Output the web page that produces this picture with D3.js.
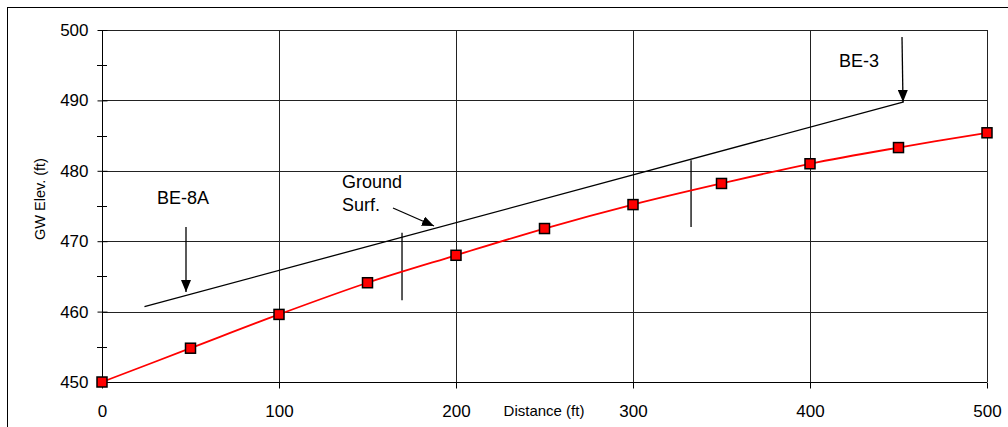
<!DOCTYPE html>
<html>
<head>
<meta charset="utf-8">
<script src="https://cdn.jsdelivr.net/npm/d3@7"></script>
<style>
  body { margin: 0; background: #fff; }
  svg { font-family: "Liberation Sans", Arial, sans-serif; }
</style>
</head>
<body>
<div id="chart"></div>
<script>
// Chart size
const width = 1008,
      height = 427;

// Data
const distance = [0, 50, 100, 150, 200, 250, 300, 350, 400, 450, 500];
const gwElev = [450, 454.8, 459.6, 464.1, 468.0, 471.8, 475.2, 478.2, 481.0, 483.3, 485.4];
const groundSurf = [[24, 460.7], [453, 489.8]];
const sectionMarks = [[169.5, 461.6, 471.2], [332.8, 472.0, 481.5]];
const xTicks = [0, 100, 200, 300, 400, 500];
const yTicks = [450, 460, 470, 480, 490, 500];
const yMinor = [455, 465, 475, 485, 495];

const margin = {left: 102, right: 21, top: 30, bottom: 45};

const svg = d3.select("#chart").append("svg")
    .attr("width", width)
    .attr("height", height);

// Arrow head (points along the line direction)
svg.append("defs").append("marker")
    .attr("id", "head")
    .attr("viewBox", "0 0 12 10")
    .attr("refX", 12)
    .attr("refY", 5)
    .attr("markerWidth", 12)
    .attr("markerHeight", 10)
    .attr("markerUnits", "userSpaceOnUse")
    .attr("orient", "auto")
    .append("path")
    .attr("d", "M0,0 L12,5 L0,10 Z")
    .attr("fill", "#000");

// Outer frame
svg.append("rect")
    .attr("x", 7.5).attr("y", 7.5)
    .attr("width", width + 10).attr("height", height + 10)
    .attr("fill", "none").attr("stroke", "#000");

const x = d3.scaleLinear().domain([0, 500]).range([margin.left, width - margin.right]);
const y = d3.scaleLinear().domain([450, 500]).range([height - margin.bottom, margin.top]);

// Grid lines
svg.append("g").selectAll("line")
    .data(yTicks.slice(1))
    .join("line")
    .attr("x1", x(0)).attr("x2", x(500))
    .attr("y1", d => Math.round(y(d)) + 0.5).attr("y2", d => Math.round(y(d)) + 0.5)
    .attr("stroke", "#222");

svg.append("g").selectAll("line")
    .data(xTicks.slice(1))
    .join("line")
    .attr("x1", d => Math.round(x(d)) + 0.5).attr("x2", d => Math.round(x(d)) + 0.5)
    .attr("y1", y(450)).attr("y2", y(500))
    .attr("stroke", "#222");

// Axes
const yAxis = svg.append("g")
    .attr("transform", `translate(${Math.round(x(0)) + 0.5},0)`)
    .call(d3.axisLeft(y).tickValues(yTicks).tickSize(5).tickFormat(d3.format("d")));
yAxis.selectAll(".tick line").attr("x2", 5).attr("x1", -5);
yAxis.selectAll(".tick text").style("font-size", "17px").attr("x", -14);
yAxis.select(".domain").remove();
yAxis.append("line").attr("y1", y(450)).attr("y2", y(500)).attr("stroke", "#000");

svg.append("g").selectAll("line")
    .data(yMinor)
    .join("line")
    .attr("x1", x(0) - 5).attr("x2", x(0) + 5)
    .attr("y1", d => Math.round(y(d)) + 0.5).attr("y2", d => Math.round(y(d)) + 0.5)
    .attr("stroke", "#000");

const xAxis = svg.append("g")
    .attr("transform", `translate(0,${Math.round(y(450)) + 0.5})`)
    .call(d3.axisBottom(x).tickValues(xTicks).tickSize(6).tickFormat(d3.format("d")));
xAxis.selectAll(".tick text").style("font-size", "17px").attr("y", 22);
xAxis.select(".domain").remove();
xAxis.append("line").attr("x1", x(0)).attr("x2", x(500)).attr("stroke", "#000");

// Axis titles
svg.append("text")
    .attr("transform", "translate(45,199) rotate(-90)")
    .attr("text-anchor", "middle")
    .style("font-size", "14.5px")
    .text("GW Elev. (ft)");

svg.append("text")
    .attr("x", 544).attr("y", 416)
    .attr("text-anchor", "middle")
    .style("font-size", "15px")
    .text("Distance (ft)");

// Ground surface
svg.append("line")
    .attr("x1", x(groundSurf[0][0])).attr("y1", y(groundSurf[0][1]))
    .attr("x2", x(groundSurf[1][0])).attr("y2", y(groundSurf[1][1]))
    .attr("stroke", "#000").attr("stroke-width", 1.3);

// Section marks
svg.append("g").selectAll("line")
    .data(sectionMarks)
    .join("line")
    .attr("x1", d => x(d[0])).attr("x2", d => x(d[0]))
    .attr("y1", d => y(d[1])).attr("y2", d => y(d[2]))
    .attr("stroke", "#000").attr("stroke-width", 1.3);

// Groundwater line
const pts = distance.map((d, i) => [d, gwElev[i]]);
svg.append("path")
    .datum(pts)
    .attr("fill", "none")
    .attr("stroke", "#ff0000")
    .attr("stroke-width", 1.8)
    .attr("d", d3.line().x(d => x(d[0])).y(d => y(d[1])).curve(d3.curveCatmullRom));

svg.append("g").selectAll("rect")
    .data(pts)
    .join("rect")
    .attr("x", d => x(d[0]) - 5).attr("y", d => y(d[1]) - 5)
    .attr("width", 10).attr("height", 10)
    .attr("fill", "#ff0000").attr("stroke", "#000").attr("stroke-width", 1.5);

// Annotations
const arrows = [
  {x1: 186, y1: 227, x2: 186, y2: 292},
  {x1: 902, y1: 37, x2: 903, y2: 102},
  {x1: 393, y1: 208, x2: 434, y2: 226}
];
svg.append("g").selectAll("line")
    .data(arrows)
    .join("line")
    .attr("x1", d => d.x1).attr("y1", d => d.y1)
    .attr("x2", d => d.x2).attr("y2", d => d.y2)
    .attr("stroke", "#000").attr("stroke-width", 1.3)
    .attr("marker-end", "url(#head)");

const labels = [
  {t: "BE-8A", x: 157, y: 204},
  {t: "BE-3", x: 839, y: 67},
  {t: "Ground", x: 342, y: 188},
  {t: "Surf.", x: 342, y: 211}
];
svg.append("g").selectAll("text")
    .data(labels)
    .join("text")
    .attr("x", d => d.x).attr("y", d => d.y)
    .style("font-size", "18px")
    .text(d => d.t);
</script>
</body>
</html>
